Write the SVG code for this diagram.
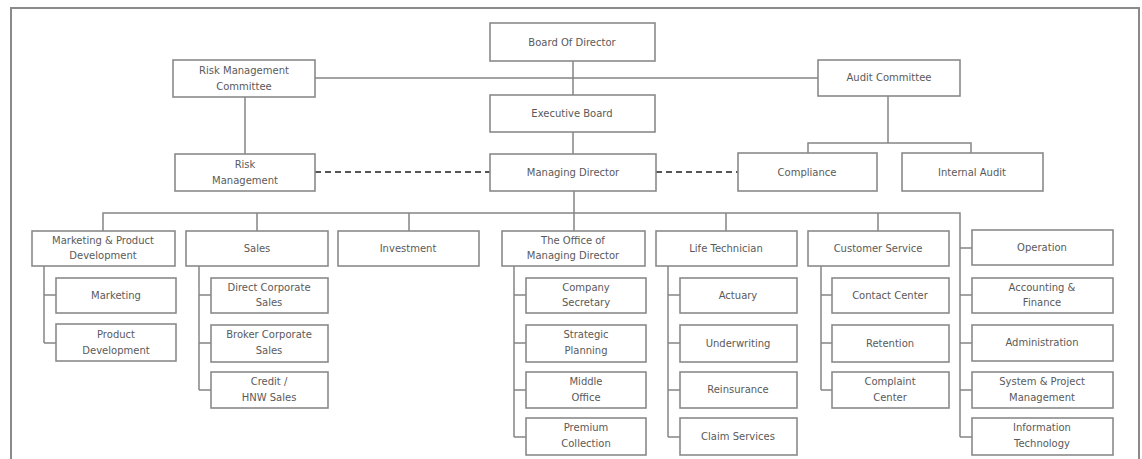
<svg xmlns="http://www.w3.org/2000/svg" width="1142" height="459" viewBox="0 0 1142 459">
<style>
.b{fill:#fff;stroke:#8a8a8a;stroke-width:1.6}
.t{font-family:"DejaVu Sans",sans-serif;font-size:10px;fill:#5a5a5a;text-anchor:middle}
.c{fill:none;stroke:#858585;stroke-width:1.5}
.d{fill:none;stroke:#555;stroke-width:1.8;stroke-dasharray:6,4}
</style>
<rect width="1142" height="459" fill="#fff"/>
<rect x="11" y="8" width="1128" height="470" fill="none" stroke="#8a8a8a" stroke-width="2"/>
<g id="connectors">
<path class="c" d="M573 61V95M315 78H818M573 132V154M245 97V154"/>
<path class="c" d="M888 96V143M808 153V143H971V153"/>
<path class="d" d="M315 172H490M656 172H738"/>
<path class="c" d="M574 191V231M103 231V213H960V437M257 213V231M409 213V231M726 213V231M878 213V231"/>
<path class="c" d="M44 266V343M44 295H56M44 343H56"/>
<path class="c" d="M199 266V390M199 295H211M199 343H211M199 390H211"/>
<path class="c" d="M514 266V437M514 295H526M514 343H526M514 390H526M514 437H526"/>
<path class="c" d="M668 266V437M668 295H680M668 343H680M668 390H680M668 437H680"/>
<path class="c" d="M821 266V390M821 295H832M821 343H832M821 390H832"/>
<path class="c" d="M960 248H972M960 295H972M960 343H972M960 390H972M960 437H972"/>
</g>
<g id="board"><rect class="b" x="490" y="23" width="165" height="38"/><text class="t" x="572" y="46">Board Of Director</text></g>
<g id="rmc"><rect class="b" x="173" y="60" width="142" height="37"/><text class="t" x="244" y="74">Risk Management</text><text class="t" x="244" y="90">Committee</text></g>
<g id="audit-committee"><rect class="b" x="818" y="60" width="142" height="36"/><text class="t" x="889" y="81">Audit Committee</text></g>
<g id="exec-board"><rect class="b" x="490" y="95" width="165" height="37"/><text class="t" x="572" y="117">Executive Board</text></g>
<g id="risk-mgmt"><rect class="b" x="175" y="154" width="140" height="37"/><text class="t" x="245" y="168">Risk</text><text class="t" x="245" y="184">Management</text></g>
<g id="md"><rect class="b" x="490" y="154" width="166" height="37"/><text class="t" x="573" y="176">Managing Director</text></g>
<g id="compliance"><rect class="b" x="738" y="153" width="139" height="38"/><text class="t" x="807" y="176">Compliance</text></g>
<g id="internal-audit"><rect class="b" x="902" y="153" width="141" height="38"/><text class="t" x="972" y="176">Internal Audit</text></g>
<g id="mpd"><rect class="b" x="32" y="231" width="143" height="35"/><text class="t" x="103" y="244">Marketing &amp; Product</text><text class="t" x="103" y="259">Development</text></g>
<g id="sales"><rect class="b" x="186" y="231" width="142" height="35"/><text class="t" x="257" y="252">Sales</text></g>
<g id="investment"><rect class="b" x="338" y="231" width="141" height="35"/><text class="t" x="408" y="252">Investment</text></g>
<g id="office-md"><rect class="b" x="502" y="231" width="143" height="35"/><text class="t" x="573" y="244">The Office of</text><text class="t" x="573" y="259">Managing Director</text></g>
<g id="life-tech"><rect class="b" x="656" y="231" width="141" height="35"/><text class="t" x="726" y="252">Life Technician</text></g>
<g id="customer-service"><rect class="b" x="808" y="231" width="141" height="35"/><text class="t" x="878" y="252">Customer Service</text></g>
<g id="operation"><rect class="b" x="972" y="230" width="141" height="35"/><text class="t" x="1042" y="251">Operation</text></g>
<g id="marketing"><rect class="b" x="56" y="278" width="120" height="35"/><text class="t" x="116" y="299">Marketing</text></g>
<g id="product-dev"><rect class="b" x="56" y="324" width="120" height="37"/><text class="t" x="116" y="338">Product</text><text class="t" x="116" y="354">Development</text></g>
<g id="direct-sales"><rect class="b" x="211" y="278" width="117" height="35"/><text class="t" x="269" y="291">Direct Corporate</text><text class="t" x="269" y="306">Sales</text></g>
<g id="broker-sales"><rect class="b" x="211" y="325" width="117" height="37"/><text class="t" x="269" y="338">Broker Corporate</text><text class="t" x="269" y="354">Sales</text></g>
<g id="credit-sales"><rect class="b" x="211" y="372" width="117" height="36"/><text class="t" x="269" y="385">Credit /</text><text class="t" x="269" y="401">HNW Sales</text></g>
<g id="company-secretary"><rect class="b" x="526" y="278" width="120" height="35"/><text class="t" x="586" y="291">Company</text><text class="t" x="586" y="306">Secretary</text></g>
<g id="strategic-planning"><rect class="b" x="526" y="325" width="120" height="37"/><text class="t" x="586" y="338">Strategic</text><text class="t" x="586" y="354">Planning</text></g>
<g id="middle-office"><rect class="b" x="526" y="372" width="120" height="36"/><text class="t" x="586" y="385">Middle</text><text class="t" x="586" y="401">Office</text></g>
<g id="premium-collection"><rect class="b" x="526" y="418" width="120" height="37"/><text class="t" x="586" y="431">Premium</text><text class="t" x="586" y="447">Collection</text></g>
<g id="actuary"><rect class="b" x="680" y="278" width="117" height="35"/><text class="t" x="738" y="299">Actuary</text></g>
<g id="underwriting"><rect class="b" x="680" y="325" width="117" height="37"/><text class="t" x="738" y="347">Underwriting</text></g>
<g id="reinsurance"><rect class="b" x="680" y="372" width="117" height="36"/><text class="t" x="738" y="393">Reinsurance</text></g>
<g id="claim-services"><rect class="b" x="680" y="418" width="117" height="37"/><text class="t" x="738" y="440">Claim Services</text></g>
<g id="contact-center"><rect class="b" x="832" y="278" width="117" height="35"/><text class="t" x="890" y="299">Contact Center</text></g>
<g id="retention"><rect class="b" x="832" y="325" width="117" height="37"/><text class="t" x="890" y="347">Retention</text></g>
<g id="complaint-center"><rect class="b" x="832" y="372" width="117" height="36"/><text class="t" x="890" y="385">Complaint</text><text class="t" x="890" y="401">Center</text></g>
<g id="accounting"><rect class="b" x="972" y="278" width="141" height="35"/><text class="t" x="1042" y="291">Accounting &amp;</text><text class="t" x="1042" y="306">Finance</text></g>
<g id="administration"><rect class="b" x="972" y="325" width="141" height="36"/><text class="t" x="1042" y="346">Administration</text></g>
<g id="system-project"><rect class="b" x="972" y="372" width="141" height="36"/><text class="t" x="1042" y="385">System &amp; Project</text><text class="t" x="1042" y="401">Management</text></g>
<g id="it"><rect class="b" x="972" y="418" width="141" height="37"/><text class="t" x="1042" y="431">Information</text><text class="t" x="1042" y="447">Technology</text></g>
</svg>
